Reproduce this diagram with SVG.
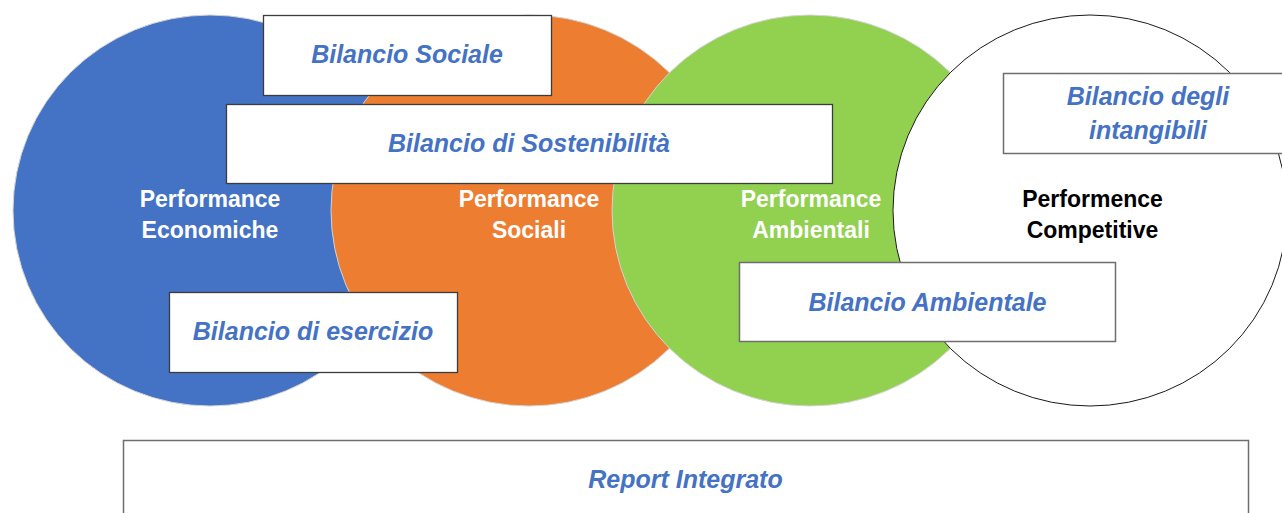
<svg xmlns="http://www.w3.org/2000/svg" width="1282" height="513" viewBox="0 0 1282 513">
<style>
.circ{stroke:#d4d4d4;stroke-width:1}
.lbl{font-family:"Liberation Sans",Arial,sans-serif;font-weight:bold;font-size:23px;text-anchor:middle}
.box{fill:#ffffff;stroke:#3c3c3c;stroke-width:1.3}
.box2{fill:#ffffff;stroke:#6e6e6e;stroke-width:1.5}
.btxt{font-family:"Liberation Sans",Arial,sans-serif;font-weight:bold;font-style:italic;font-size:25px;fill:#4472C4;text-anchor:middle}
</style>
<rect width="1282" height="513" fill="#ffffff"/>
<g id="circle-economiche">
<ellipse class="circ" cx="210" cy="210.5" rx="197" ry="195.5" fill="#4472C4"/>
<text class="lbl" fill="#ffffff"><tspan x="210" y="207">Performance</tspan><tspan x="210" y="238">Economiche</tspan></text>
</g>
<g id="circle-sociali">
<ellipse class="circ" cx="529" cy="210.5" rx="198" ry="195.5" fill="#ED7D31"/>
</g>
<g id="circle-ambientali">
<ellipse class="circ" cx="810" cy="210.5" rx="198" ry="195.5" fill="#92D050"/>
</g>
<g id="circle-competitive">
<ellipse cx="1090" cy="210.5" rx="197" ry="195.5" fill="#ffffff" stroke="#1a1a1a" stroke-width="1"/>
</g>
<g id="labels">
<text class="lbl" fill="#ffffff"><tspan x="529" y="207">Performance</tspan><tspan x="529" y="238">Sociali</tspan></text>
<text class="lbl" fill="#ffffff"><tspan x="811" y="207">Performance</tspan><tspan x="811" y="238">Ambientali</tspan></text>
<text class="lbl" fill="#000000"><tspan x="1092.5" y="207">Performence</tspan><tspan x="1092.5" y="238">Competitive</tspan></text>
</g>
<g id="box-sociale">
<rect class="box" x="263.5" y="15.5" width="288" height="80"/>
<text class="btxt" x="407" y="63">Bilancio Sociale</text>
</g>
<g id="box-sostenibilita">
<rect class="box" x="226.5" y="104.5" width="606" height="79"/>
<text class="btxt" x="529" y="152">Bilancio di Sostenibilità</text>
</g>
<g id="box-esercizio">
<rect class="box" x="169.5" y="292.5" width="288" height="80"/>
<text class="btxt" x="313" y="340">Bilancio di esercizio</text>
</g>
<g id="box-ambientale">
<rect class="box2" x="739.5" y="262.5" width="376" height="79"/>
<text class="btxt" x="927.5" y="311">Bilancio Ambientale</text>
</g>
<g id="box-intangibili">
<rect class="box2" x="1003.5" y="73.5" width="290" height="80"/>
<text class="btxt"><tspan x="1148" y="105">Bilancio degli</tspan><tspan x="1148" y="139">intangibili</tspan></text>
</g>
<g id="box-report">
<rect class="box2" x="123.5" y="440.5" width="1125" height="90"/>
<text class="btxt" x="685.5" y="488">Report Integrato</text>
</g>
<g id="connectors"/>
</svg>
